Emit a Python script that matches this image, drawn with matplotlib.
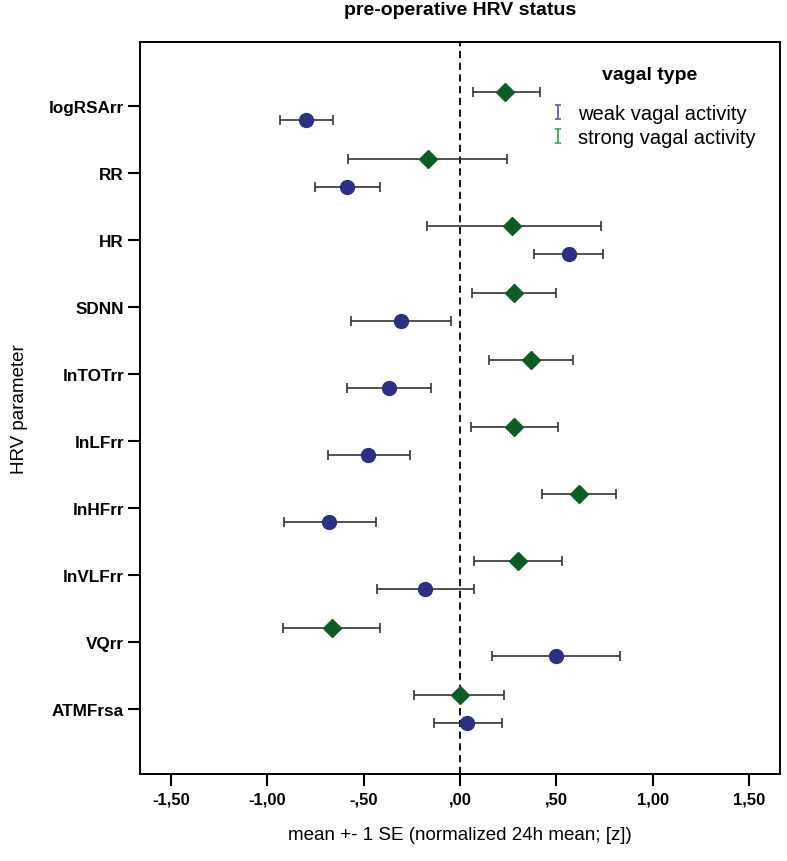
import numpy as np
import matplotlib
matplotlib.use("Agg")
import matplotlib.pyplot as plt
from matplotlib.path import Path
from matplotlib.lines import Line2D

plt.rcParams['font.family'] = ['Liberation Sans', 'DejaVu Sans']

params = ["logRSArr", "RR", "HR", "SDNN", "lnTOTrr", "lnLFrr",
          "lnHFrr", "lnVLFrr", "VQrr", "ATMFrsa"]

# strong vagal activity (green diamonds)
strong_mean = [0.234, -0.166, 0.27, 0.28, 0.37, 0.28, 0.618, 0.30, -0.665, 0.0]
strong_lo = [0.07, -0.58, -0.17, 0.06, 0.15, 0.057, 0.425, 0.073, -0.92, -0.24]
strong_hi = [0.415, 0.245, 0.73, 0.50, 0.585, 0.51, 0.81, 0.53, -0.415, 0.23]

# weak vagal activity (blue circles)
weak_mean = [-0.80, -0.587, 0.566, -0.306, -0.37, -0.478, -0.68, -0.18, 0.498, 0.036]
weak_lo = [-0.935, -0.75, 0.385, -0.566, -0.587, -0.685, -0.914, -0.43, 0.166, -0.135]
weak_hi = [-0.66, -0.415, 0.74, -0.047, -0.15, -0.26, -0.436, 0.073, 0.83, 0.218]

xticks = [-1.5, -1.0, -0.5, 0.0, 0.5, 1.0, 1.5]
xticklabels = ["-1,50", "-1,00", "-,50", ",00", ",50", "1,00", "1,50"]

blue = "#2b2f86"
green = "#0b5d24"

fig = plt.figure(figsize=(7.87, 8.62), dpi=100)
ax = fig.add_axes([0.178, 0.101, 0.813, 0.849])

y = np.arange(len(params))
off = 0.21

sm = np.array(strong_mean)
wm = np.array(weak_mean)
s_err = [sm - np.array(strong_lo), np.array(strong_hi) - sm]
w_err = [wm - np.array(weak_lo), np.array(weak_hi) - wm]

ax.axvline(0, color="black", linestyle=(0, (4, 2.5)), linewidth=1.3, zorder=1)

ax.errorbar(sm, y - off, xerr=s_err, fmt="none", ecolor="#333333",
            elinewidth=1.2, capsize=3.5, capthick=1.2, zorder=2)
ax.errorbar(wm, y + off, xerr=w_err, fmt="none", ecolor="#333333",
            elinewidth=1.2, capsize=3.5, capthick=1.2, zorder=2)
ax.plot(sm, y - off, linestyle="none", marker="D", markersize=9.5,
        color=green, markeredgecolor=green, zorder=3)
ax.plot(wm, y + off, linestyle="none", marker="o", markersize=10,
        color=blue, markeredgecolor=blue, zorder=3)

ax.set_xlim(-1.66, 1.66)
ax.set_ylim(len(params) - 1 + 0.97, -0.955)
ax.set_yticks(y)
ax.set_yticklabels(params, fontsize=12.3, fontweight="bold")
ax.set_xticks(xticks)
ax.set_xticklabels(xticklabels, fontsize=12, fontweight="bold")
ax.tick_params(axis="both", direction="out", length=8.5, width=1.5)
ax.tick_params(axis="y", pad=3)
ax.tick_params(axis="x", pad=4)
for s in ax.spines.values():
    s.set_linewidth(1.4)

ax.set_xlabel("mean +- 1 SE (normalized 24h mean; [z])", fontsize=13.5, labelpad=14)
ax.set_ylabel("HRV parameter", fontsize=13.5, labelpad=15)
ax.set_title("pre-operative HRV status", fontsize=14, fontweight="bold", pad=20)

# I-beam legend glyph
ibeam = Path([(0, -1), (0, 1), (-0.45, 1), (0.45, 1), (-0.45, -1), (0.45, -1)],
             [Path.MOVETO, Path.LINETO, Path.MOVETO, Path.LINETO, Path.MOVETO, Path.LINETO])
handles = [
    Line2D([], [], linestyle="none", marker=ibeam, markersize=9.5,
           markeredgecolor="#5a66b8", markeredgewidth=1.3),
    Line2D([], [], linestyle="none", marker=ibeam, markersize=9.5,
           markeredgecolor="#3cae5c", markeredgewidth=1.3),
]
leg = ax.legend(handles, ["weak vagal activity", "strong vagal activity"],
                loc="upper left", frameon=False, fontsize=14.5,
                handlelength=0.6, handletextpad=0.7, labelspacing=0.25,
                borderpad=0, borderaxespad=0,
                bbox_to_anchor=(552 / 787, 1 - 105 / 862),
                bbox_transform=fig.transFigure)
fig.text(650 / 787, 1 - 76 / 862, "vagal type", fontsize=14, fontweight="bold",
         ha="center", va="center")

fig.savefig("out.png", dpi=100)
